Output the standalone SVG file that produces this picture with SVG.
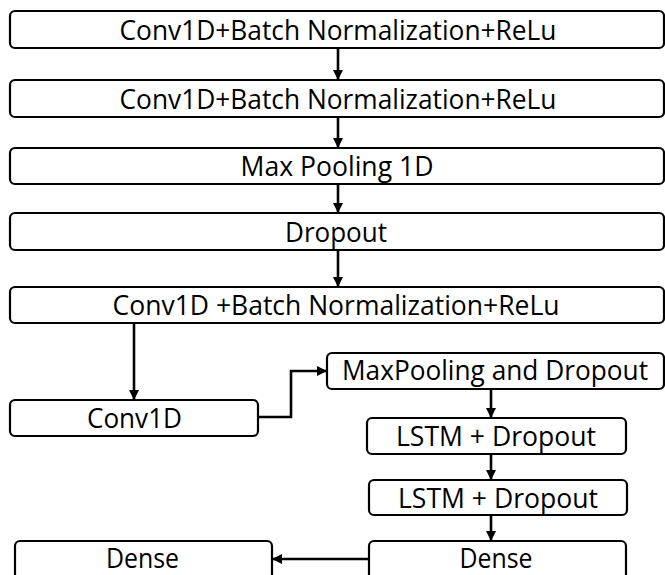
<svg xmlns="http://www.w3.org/2000/svg" width="665" height="575" viewBox="0 0 665 575">
<style>
.box{fill:#fff;stroke:#000;stroke-width:2.2}
.lbl{font-family:"Open Sans","Liberation Sans",sans-serif;font-size:28px;fill:#000;text-anchor:middle}
.conn{fill:none;stroke:#000;stroke-width:2.6}
</style>
<defs>
<marker id="ah" markerUnits="userSpaceOnUse" markerWidth="11" markerHeight="10" refX="10" refY="5" orient="auto">
<path d="M0,0 L10,5 L0,10 z" fill="#000"/>
</marker>
</defs>
<rect width="665" height="575" fill="#fff"/>
<g id="n1"><rect class="box" x="10" y="11" width="654" height="37" rx="5"/><text class="lbl" x="338" y="39.5" textLength="437" lengthAdjust="spacingAndGlyphs">Conv1D+Batch Normalization+ReLu</text></g>
<g id="n2"><rect class="box" x="10" y="80" width="654" height="37" rx="5"/><text class="lbl" x="338" y="108.5" textLength="437" lengthAdjust="spacingAndGlyphs">Conv1D+Batch Normalization+ReLu</text></g>
<g id="n3"><rect class="box" x="10" y="148" width="654" height="36" rx="5"/><text class="lbl" x="337" y="175.5" textLength="193" lengthAdjust="spacingAndGlyphs">Max Pooling 1D</text></g>
<g id="n4"><rect class="box" x="10" y="213" width="654" height="37" rx="5"/><text class="lbl" x="336" y="241.5" textLength="102" lengthAdjust="spacingAndGlyphs">Dropout</text></g>
<g id="n5"><rect class="box" x="10" y="287" width="654" height="36" rx="5"/><text class="lbl" x="336" y="315" textLength="447" lengthAdjust="spacingAndGlyphs">Conv1D +Batch Normalization+ReLu</text></g>
<g id="n6"><rect class="box" x="10" y="400" width="248" height="36" rx="5"/><text class="lbl" x="134.5" y="428" textLength="95" lengthAdjust="spacingAndGlyphs">Conv1D</text></g>
<g id="n7"><rect class="box" x="327" y="353" width="337" height="36" rx="5"/><text class="lbl" x="495" y="380" font-size="27" textLength="306" lengthAdjust="spacingAndGlyphs">MaxPooling and Dropout</text></g>
<g id="n8"><rect class="box" x="367" y="418" width="259" height="36" rx="5"/><text class="lbl" x="496" y="446" textLength="200" lengthAdjust="spacingAndGlyphs">LSTM + Dropout</text></g>
<g id="n9"><rect class="box" x="369" y="480" width="258" height="35" rx="5"/><text class="lbl" x="498" y="507.5" textLength="200" lengthAdjust="spacingAndGlyphs">LSTM + Dropout</text></g>
<g id="n10"><rect class="box" x="369" y="541" width="257" height="40" rx="5"/><text class="lbl" x="496" y="568" textLength="73" lengthAdjust="spacingAndGlyphs">Dense</text></g>
<g id="n11"><rect class="box" x="15" y="541" width="257" height="40" rx="5"/><text class="lbl" x="142.5" y="568" textLength="73" lengthAdjust="spacingAndGlyphs">Dense</text></g>
<g id="connectors">
<line class="conn" x1="338" y1="48" x2="338" y2="80" marker-end="url(#ah)"/>
<line class="conn" x1="338" y1="117" x2="338" y2="148" marker-end="url(#ah)"/>
<line class="conn" x1="338" y1="184" x2="338" y2="213" marker-end="url(#ah)"/>
<line class="conn" x1="338" y1="250" x2="338" y2="287" marker-end="url(#ah)"/>
<line class="conn" x1="134" y1="323" x2="134" y2="400" marker-end="url(#ah)"/>
<path class="conn" d="M258,417 H291 V371 H327" marker-end="url(#ah)"/>
<line class="conn" x1="491" y1="389" x2="491" y2="418" marker-end="url(#ah)"/>
<line class="conn" x1="491" y1="454" x2="491" y2="480" marker-end="url(#ah)"/>
<line class="conn" x1="491" y1="515" x2="491" y2="541" marker-end="url(#ah)"/>
<line class="conn" x1="369" y1="559" x2="272" y2="559" marker-end="url(#ah)"/>
</g>
</svg>
